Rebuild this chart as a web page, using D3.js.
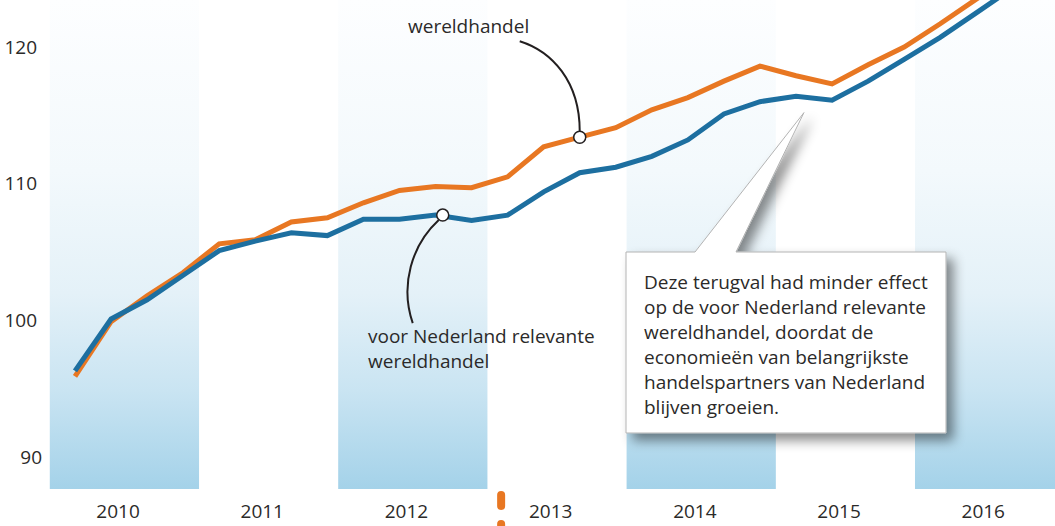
<!DOCTYPE html>
<html><head><meta charset="utf-8">
<script src="https://cdn.jsdelivr.net/npm/d3@7"></script>
<style>
html,body{margin:0;padding:0;background:#fff;}
text{font-family:"Open Sans",sans-serif;fill:#2b2a29;}
</style></head>
<body><svg id="c" width="1055" height="526"></svg>
<script>
// ---- data ----
const quarters = d3.range(28).map(i => 2010 + (i + 0.5) / 4); // 2010Q1 .. 2016Q4 (mid-quarter)
const wereldhandel = [95.9, 99.9, 101.8, 103.5, 105.6, 105.9, 107.2, 107.5, 108.6, 109.5, 109.8, 109.7,
  110.5, 112.7, 113.4, 114.1, 115.4, 116.3, 117.5, 118.6, 117.9, 117.3, 118.7, 120.0, 121.7, 123.5, 125.2, 126.9];
const relevanteWereldhandel = [96.3, 100.1, 101.5, 103.3, 105.1, 105.8, 106.4, 106.2, 107.4, 107.4, 107.7, 107.3,
  107.7, 109.4, 110.8, 111.2, 112.0, 113.2, 115.1, 116.0, 116.4, 116.1, 117.5, 119.1, 120.7, 122.5, 124.3, 126.0];
const years = [2010, 2011, 2012, 2013, 2014, 2015, 2016];
const shadedYears = [2010, 2012, 2014, 2016];
const yTicks = [90, 100, 110, 120];
const labelWereld = "wereldhandel";
const labelRelevant = ["voor Nederland relevante", "wereldhandel"];
const calloutLines = ["Deze terugval had minder effect", "op de voor Nederland relevante",
  "wereldhandel, doordat de", "economieën van belangrijkste", "handelspartners van Nederland", "blijven groeien."];
const markerT = 2013.08;
const calloutTip = { t: 2015.18, v: 115.2 };

// ---- scales ----
const svg = d3.select("#c");
const x = d3.scaleLinear().domain([2010, 2017]).range([57, 57 + 7 * 144.2]);
const y = d3.scaleLinear().domain([90, 120]).range([457, 47]);
const bandBottom = 489;
const fs = "19px";

const defs = svg.append("defs");
const grad = defs.append("linearGradient").attr("id", "bandGrad")
  .attr("gradientUnits", "userSpaceOnUse").attr("x1", 0).attr("x2", 0).attr("y1", 0).attr("y2", bandBottom);
[[0, "#fdfeff"], [0.35, "#f3f9fc"], [0.6, "#e4f1f8"], [0.8, "#c9e4f2"], [1, "#a4d2e9"]]
  .forEach(([o, c]) => grad.append("stop").attr("offset", o).attr("stop-color", c));
const sh = defs.append("filter").attr("id", "shadow").attr("x", "-20%").attr("y", "-20%").attr("width", "150%").attr("height", "150%");
sh.append("feDropShadow").attr("dx", 7).attr("dy", 7).attr("stdDeviation", 6)
  .attr("flood-color", "#000").attr("flood-opacity", 0.45);

// bands
svg.selectAll("rect.band").data(shadedYears).join("rect").attr("class", "band")
  .attr("x", d => x(d - 0.05)).attr("y", 0)
  .attr("width", d => x(d + 0.985) - x(d - 0.05)).attr("height", bandBottom)
  .attr("fill", "url(#bandGrad)");

// y axis labels
const yAxis = svg.append("g").attr("transform", "translate(37,0)")
  .call(d3.axisLeft(y).tickValues(yTicks).tickSize(0).tickPadding(0));
yAxis.select(".domain").remove();
yAxis.selectAll("text").style("font-size", fs).attr("fill", "#2b2a29")
  .attr("font-family", "Open Sans").attr("x", d => d < 100 ? 5 : 0);

// x axis labels
const xAxis = svg.append("g").attr("transform", `translate(0,${bandBottom})`)
  .call(d3.axisBottom(x).tickValues(years.map(v => v + 0.42)).tickSize(0).tickPadding(16)
    .tickFormat(d => String(Math.floor(d))));
xAxis.select(".domain").remove();
xAxis.selectAll("text").style("font-size", fs).attr("fill", "#2b2a29").attr("font-family", "Open Sans");

// break marker
svg.append("rect").attr("x", x(markerT) - 4).attr("y", 491).attr("width", 8).attr("height", 19).attr("rx", 4).attr("fill", "#e87722");
svg.append("rect").attr("x", x(markerT) - 4).attr("y", 520).attr("width", 8).attr("height", 19).attr("rx", 4).attr("fill", "#e87722");

// lines
const line = d3.line().x((d, i) => x(quarters[i])).y(d => y(d));
svg.append("path").datum(wereldhandel).attr("d", line).attr("fill", "none")
  .attr("stroke", "#e87722").attr("stroke-width", 5).attr("stroke-linejoin", "miter");
svg.append("path").datum(relevanteWereldhandel).attr("d", line).attr("fill", "none")
  .attr("stroke", "#1d6fa0").attr("stroke-width", 5).attr("stroke-linejoin", "miter");

// annotation 1: wereldhandel
const a1 = [x(quarters[14]), y(wereldhandel[14])];
svg.append("path").attr("d", `M${a1[0] - 60},${a1[1] - 96} C${a1[0] - 28},${a1[1] - 86} ${a1[0]},${a1[1] - 56} ${a1[0]},${a1[1] - 6}`)
  .attr("fill", "none").attr("stroke", "#231f20").attr("stroke-width", 2);
svg.append("circle").attr("cx", a1[0]).attr("cy", a1[1]).attr("r", 6)
  .attr("fill", "#fff").attr("stroke", "#231f20").attr("stroke-width", 1.5);
svg.append("text").attr("x", 408).attr("y", 33).style("font-size", fs).text(labelWereld);

// annotation 2: relevante wereldhandel
const t2 = quarters[10] + 0.05;
const a2 = [x(t2), y(relevanteWereldhandel[10])];
svg.append("path").attr("d", `M${a2[0] - 4},${a2[1] + 5} C${a2[0] - 31},${a2[1] + 30} ${a2[0] - 43},${a2[1] + 70} ${a2[0] - 30},${a2[1] + 108}`)
  .attr("fill", "none").attr("stroke", "#231f20").attr("stroke-width", 2);
svg.append("circle").attr("cx", a2[0]).attr("cy", a2[1]).attr("r", 6)
  .attr("fill", "#fff").attr("stroke", "#231f20").attr("stroke-width", 1.5);
svg.append("text").attr("x", 368).attr("y", 343).style("font-size", fs)
  .selectAll("tspan").data(labelRelevant).join("tspan").attr("x", 368).attr("dy", (d, i) => i ? 25 : 0).text(d => d);

// callout
const tip = [x(calloutTip.t), y(calloutTip.v)];
const bx0 = 626, bx1 = 946, by0 = 252, by1 = 433;
svg.append("path")
  .attr("d", `M${bx0},${by0} L695,${by0} L${tip[0]},${tip[1]} L736,${by0} L${bx1},${by0} L${bx1},${by1} L${bx0},${by1} Z`)
  .attr("fill", "#fff").attr("stroke", "#b3b3b3").attr("stroke-width", 1).attr("filter", "url(#shadow)");
svg.append("text").attr("x", 644).attr("y", 289).style("font-size", fs)
  .selectAll("tspan").data(calloutLines).join("tspan").attr("x", 644).attr("dy", (d, i) => i ? 25 : 0).text(d => d);
</script></body></html>
